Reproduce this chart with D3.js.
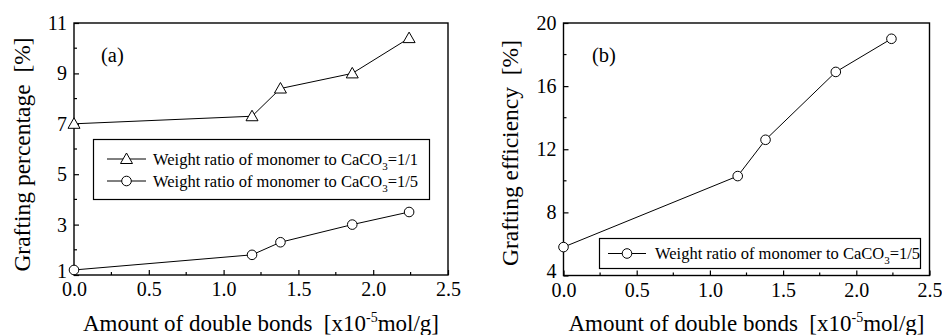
<!DOCTYPE html>
<html><head><meta charset="utf-8">
<script src="https://cdn.jsdelivr.net/npm/d3@7"></script>
<style>body{margin:0;background:#fff}svg{display:block}text{font-family:"Liberation Serif","Times New Roman",Tinos,"DejaVu Serif",serif !important;fill:#000;white-space:pre}</style>
</head><body><svg id="c" width="942" height="335"></svg>
<script>
const xValues = [0, 1.19, 1.38, 1.86, 2.24];
const gpRatio11 = [7.0, 7.3, 8.4, 9.0, 10.4];
const gpRatio15 = [1.2, 1.8, 2.3, 3.0, 3.5];
const geRatio15 = [5.8, 10.3, 12.6, 16.9, 19.0];
const xTicks = [0, 0.5, 1.0, 1.5, 2.0, 2.5];
const yTicksA = [1, 3, 5, 7, 9, 11];
const yTicksB = [4, 8, 12, 16, 20];
const legendA = ["Weight ratio of monomer to CaCO", "=1/1"];
const legendB = ["Weight ratio of monomer to CaCO", "=1/5"];

const svg = d3.select("#c");

function panel(o) {
  const g = svg.append("g");
  const x = d3.scaleLinear().domain([0, 2.5]).range([o.left, o.right]);
  const y = d3.scaleLinear().domain(o.ydom).range([o.bottom, o.top]);
  g.append("rect").attr("x", o.left).attr("y", o.top).attr("width", o.right - o.left).attr("height", o.bottom - o.top)
    .attr("fill", "none").attr("stroke", "#000").attr("stroke-width", 1.4);
  const xa = d3.axisBottom(x).tickValues(xTicks).tickFormat(d3.format(".1f")).tickSizeInner(-5).tickSizeOuter(0).tickPadding(8);
  const gx = g.append("g").attr("transform", `translate(0,${o.bottom})`).call(xa).attr("font-family", null);
  gx.select(".domain").remove();
  gx.selectAll("text").attr("font-size", 20).attr("fill", "#000").attr("dy", "0.66em");
  gx.selectAll("line").attr("stroke-width", 1.2);
  const xMinor = d3.range(0.25, 2.5, 0.5);
  g.selectAll(null).data(xMinor).enter().append("line")
    .attr("x1", d => x(d)).attr("x2", d => x(d)).attr("y1", o.bottom).attr("y2", o.bottom - 3).attr("stroke", "#000").attr("stroke-width", 1.2);
  const ya = d3.axisLeft(y).tickValues(o.yticks).tickFormat(d3.format("d")).tickSizeInner(-5).tickSizeOuter(0).tickPadding(7);
  const gy = g.append("g").attr("transform", `translate(${o.left},0)`).call(ya).attr("font-family", null);
  gy.select(".domain").remove();
  gy.selectAll("text").attr("font-size", 20).attr("fill", "#000").attr("dy", (d, i) => i === 0 ? "0.12em" : "0.32em");
  gy.selectAll("line").attr("stroke-width", 1.2);
  const step = o.yticks[1] - o.yticks[0];
  const yMinor = o.yticks.slice(0, -1).map(v => v + step / 2);
  g.selectAll(null).data(yMinor).enter().append("line")
    .attr("x1", o.left).attr("x2", o.left + 3).attr("y1", d => y(d)).attr("y2", d => y(d)).attr("stroke", "#000").attr("stroke-width", 1.2);
  const xt = g.append("text").attr("x", (o.left + o.right) / 2).attr("y", 331).attr("text-anchor", "middle").attr("font-size", 23);
  xt.append("tspan").text("Amount of double bonds  [x10");
  xt.append("tspan").attr("font-size", 14).attr("dy", -9).text("-5");
  xt.append("tspan").attr("dy", 9).text("mol/g]");
  g.append("text").attr("transform", `translate(${o.ytx},${o.ytc}) rotate(-90)`)
    .attr("text-anchor", "middle").attr("font-size", 23.5).text(o.ytitle);
  g.append("text").attr("x", o.labx).attr("y", 62).attr("font-size", 20.5).text(o.label);
  const line = d3.line().x((d, i) => x(xValues[i])).y(d => y(d));
  o.series.forEach(s => {
    g.append("path").datum(s.values).attr("d", line).attr("fill", "none").attr("stroke", "#000").attr("stroke-width", 1);
    s.values.forEach((v, i) => drawMarker(g, s.marker, x(xValues[i]), y(v)));
  });
  const L = o.legend;
  g.append("rect").attr("x", L.x).attr("y", L.y).attr("width", L.w).attr("height", L.h).attr("fill", "#fff").attr("stroke", "#000").attr("stroke-width", 1.2);
  L.items.forEach((it, i) => {
    const cy = L.y + L.first + i * L.gap;
    g.append("line").attr("x1", L.lx1).attr("x2", L.lx2).attr("y1", cy).attr("y2", cy).attr("stroke", "#000").attr("stroke-width", 1);
    drawMarker(g, it.marker, (L.lx1 + L.lx2) / 2, cy);
    const t = g.append("text").attr("x", L.tx).attr("y", cy + 5.5).attr("font-size", 16.5);
    t.append("tspan").text(it.text[0]);
    t.append("tspan").attr("font-size", 11).attr("dy", 5).text("3");
    t.append("tspan").attr("dy", -5).text(it.text[1]);
  });
}

function drawMarker(g, type, cx, cy) {
  if (type === "circle") {
    g.append("circle").attr("cx", cx).attr("cy", cy).attr("r", 4.8).attr("fill", "#fff").attr("stroke", "#000").attr("stroke-width", 1);
  } else {
    g.append("path").attr("d", `M${cx},${cy - 6}L${cx + 6},${cy + 4.5}L${cx - 6},${cy + 4.5}Z`).attr("fill", "#fff").attr("stroke", "#000").attr("stroke-width", 1);
  }
}

panel({
  left: 74, right: 448, top: 23, bottom: 275, ydom: [1, 11], yticks: yTicksA,
  ytitle: "Grafting percentage  [%]", ytx: 30, ytc: 154.5, label: "(a)", labx: 101,
  series: [{ values: gpRatio11, marker: "tri" }, { values: gpRatio15, marker: "circle" }],
  legend: { x: 93.5, y: 139.5, w: 336, h: 60, first: 19.5, gap: 22, lx1: 107, lx2: 146, tx: 153,
    items: [{ marker: "tri", text: legendA }, { marker: "circle", text: legendB }] }
});
panel({
  left: 563.5, right: 929.5, top: 23, bottom: 275.5, ydom: [4, 20], yticks: yTicksB,
  ytitle: "Grafting efficiency  [%]", ytx: 518, ytc: 153, label: "(b)", labx: 592,
  series: [{ values: geRatio15, marker: "circle" }],
  legend: { x: 599.5, y: 238.5, w: 321, h: 30, first: 15, gap: 0, lx1: 608, lx2: 646, tx: 655,
    items: [{ marker: "circle", text: legendB }] }
});
</script></body></html>
